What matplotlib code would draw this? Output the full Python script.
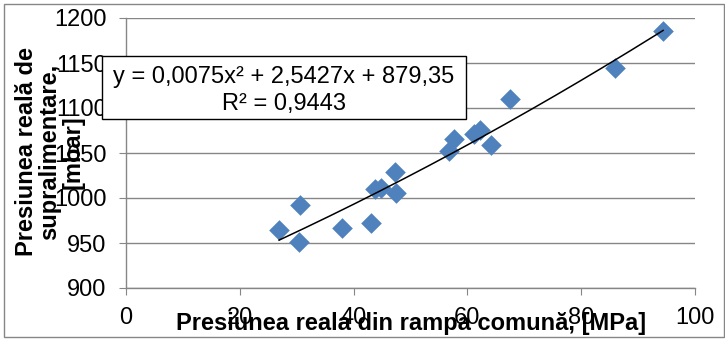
import matplotlib
matplotlib.use("Agg")
import matplotlib.pyplot as plt
from matplotlib.patches import Rectangle
import numpy as np

plt.rcParams['font.family'] = ['Liberation Sans', 'DejaVu Sans']

# measured points: common-rail pressure [MPa] vs boost pressure [mbar]
rail_pressure = [26.9, 30.6, 30.4, 37.9, 43.0, 43.7, 44.9, 47.2, 47.5,
                 56.8, 57.6, 61.1, 62.3, 64.1, 67.4, 86.0, 94.4]
boost_pressure = [964.3, 992.2, 951.6, 967.2, 972.1, 1010.0, 1010.7, 1028.6, 1005.1,
                  1052.7, 1065.8, 1071.3, 1075.8, 1059.4, 1110.4, 1144.9, 1185.7]

# polynomial trendline (order 2)
trend_coef = [0.0075, 2.5427, 879.35]
r_squared = 0.9443

x_ticks = [0, 20, 40, 60, 80, 100]
y_ticks = [900, 950, 1000, 1050, 1100, 1150, 1200]

W, H = 725, 339
grey = '#868686'
blue = '#4F81BD'
fs = 17


def px(x, y):
    return x / W, 1 - y / H


fig = plt.figure(figsize=(W / 100, H / 100), dpi=100)
fig.patch.set_facecolor('white')

l, t = px(126, 18)
r, b = px(695, 288)
ax = fig.add_axes([l, b, r - l, t - b])

ax.scatter(rail_pressure, boost_pressure, marker='D', s=10.5 ** 2,
           color=blue, linewidths=0, zorder=3)

xs = np.linspace(min(rail_pressure), max(rail_pressure), 200)
ax.plot(xs, np.polyval(trend_coef, xs), color='black', lw=1.1, zorder=4)

ax.set_xlim(0, 100)
ax.set_ylim(900, 1200)
ax.set_xticks(x_ticks)
ax.set_yticks(y_ticks)
ax.set_xticklabels([str(v) for v in x_ticks])
ax.set_yticklabels([str(v) for v in y_ticks])
ax.tick_params(axis='both', labelsize=fs, color=grey, length=5, width=0.8)
ax.tick_params(axis='x', pad=8.5)
ax.tick_params(axis='y', pad=9)

ax.grid(axis='y', color=grey, lw=1.0)
ax.set_axisbelow(True)
for s in ['top', 'right']:
    ax.spines[s].set_visible(False)
for s in ['left', 'bottom']:
    ax.spines[s].set_color(grey)
    ax.spines[s].set_linewidth(1.0)

# axis titles
fig.text(*px(411, 330), 'Presiunea reala din rampa comună, [MPa]',
         ha='center', va='baseline', fontsize=fs, fontweight='bold')
fig.text(*px(50, 152), 'Presiunea reală de\nsupralimentare,\n[mbar]',
         ha='center', va='center', rotation=90, fontsize=fs,
         fontweight='bold', multialignment='center', linespacing=1.0)

# trendline label
x0, y0 = px(102, 119)
x1, y1 = px(466, 56)
fig.patches.append(Rectangle((x0, y0), x1 - x0, y1 - y0, transform=fig.transFigure,
                             facecolor='white', edgecolor='black', lw=1.0, zorder=5))
fig.text(*px(284, 83), 'y = 0,0075x² + 2,5427x + 879,35', ha='center',
         va='baseline', fontsize=fs, zorder=6)
fig.text(*px(284, 110), 'R² = ' + f'{r_squared:.4f}'.replace('.', ','), ha='center',
         va='baseline', fontsize=fs, zorder=6)

# chart border
bx0, by0 = px(4, 337)
bx1, by1 = px(724, 4)
fig.patches.append(Rectangle((bx0, by0), bx1 - bx0, by1 - by0, transform=fig.transFigure,
                             facecolor='none', edgecolor=grey, lw=1.0))

fig.savefig('out.png', dpi=100)
